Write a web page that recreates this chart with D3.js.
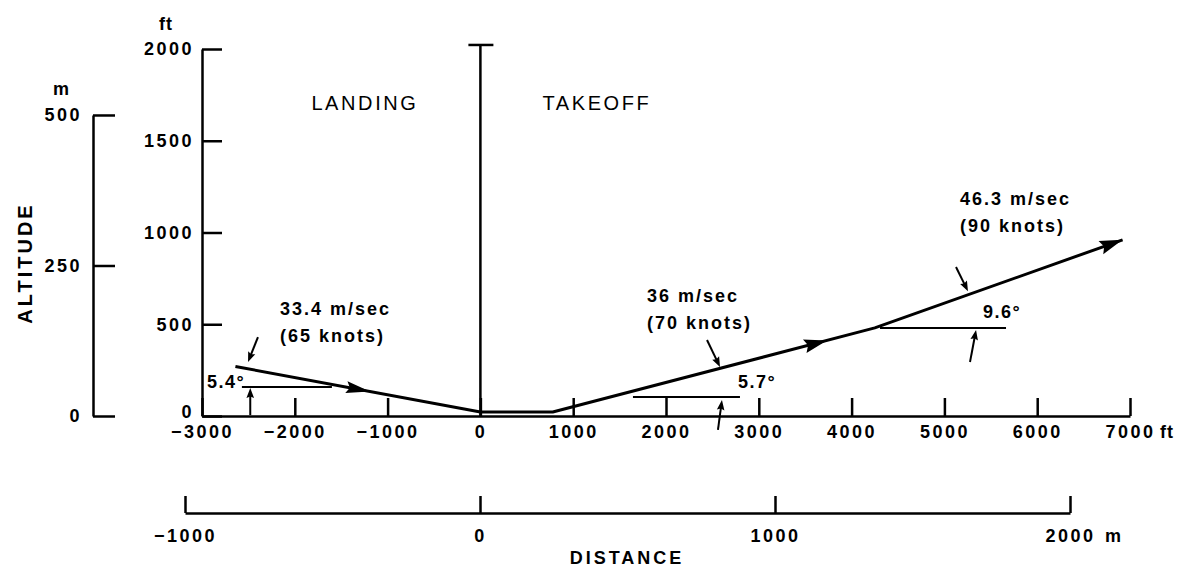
<!DOCTYPE html>
<html><head><meta charset="utf-8">
<script src="https://cdn.jsdelivr.net/npm/d3@7"></script>
<style>
html,body{margin:0;padding:0;background:#fff;}
svg{display:block;background:#fff;}
text{font-family:"Liberation Sans",Arial,Helvetica,sans-serif;fill:#000;}
</style></head><body>
<svg id="chart" width="1186" height="572"></svg>
<script>
// ---------- data ----------
const altitudeTicksFt = [0, 500, 1000, 1500, 2000];
const altitudeTicksM = [0, 250, 500];
const distanceTicksFt = [-3000, -2000, -1000, 0, 1000, 2000, 3000, 4000, 5000, 6000, 7000];
const distanceTicksM = [-1000, 0, 1000, 2000];
const phaseLabels = ["LANDING", "TAKEOFF"];
const landingX = [-2640, 0];
const landingY = [270, 22];
const takeoffX = [0, 780, 4250, 6920];
const takeoffY = [22, 22, 480, 960];
const landingArrowX = [-1190];
const takeoffArrowX = [3735, 6920];
const speedMs = ["33.4 m/sec", "36 m/sec", "46.3 m/sec"];
const speedKnots = ["(65 knots)", "(70 knots)", "(90 knots)"];
const climbAngles = ["5.4°", "5.7°", "9.6°"];
const FT_PER_M = 3.28084;

// ---------- setup ----------
const svg = d3.select("#chart");
const x = d3.scaleLinear().domain([-3000, 7000]).range([202, 1130]);
const y = d3.scaleLinear().domain([0, 2000]).range([416, 49]);
const yM = d3.scaleLinear().domain([0, 500]).range([y(0), y(500 * FT_PER_M)]);
const xM = d3.scaleLinear().domain([-1000, 2000]).range([185, 1070]);
const fmt = d3.format("d");

const LBL = {size: "18px", weight: "bold", ls: "2.5px"};
function styleAxis(g, lw) {
  g.attr("font-family", null).attr("font-size", null);
  g.select(".domain").attr("stroke", "#000").attr("stroke-width", lw);
  g.selectAll(".tick line").attr("stroke", "#000").attr("stroke-width", lw);
  g.selectAll(".tick text")
    .style("font-size", LBL.size).style("font-weight", LBL.weight)
    .style("letter-spacing", LBL.ls);
}

// altitude ft axis
svg.append("g").attr("transform", "translate(202,0)")
  .call(d3.axisLeft(y).tickValues(altitudeTicksFt).tickFormat(fmt).tickSize(-20).tickSizeOuter(0).tickPadding(8))
  .call(g => styleAxis(g, 2.5))
  .call(g => g.selectAll(".tick text").filter(d => d === 0).attr("dy", "0.1em"));
// altitude m axis
svg.append("g").attr("transform", "translate(93,0)")
  .call(d3.axisLeft(yM).tickValues(altitudeTicksM).tickFormat(fmt).tickSize(-22).tickSizeOuter(0).tickPadding(11))
  .call(g => styleAxis(g, 2.5));
// distance ft axis
svg.append("g").attr("transform", `translate(0,${y(0)})`)
  .call(d3.axisBottom(x).tickValues(distanceTicksFt).tickSize(-18).tickSizeOuter(0).tickPadding(9).tickFormat(fmt))
  .call(g => styleAxis(g, 2.5));
// distance m axis
svg.append("g").attr("transform", "translate(0,513)")
  .call(d3.axisBottom(xM).tickValues(distanceTicksM).tickSize(-17).tickSizeOuter(0).tickPadding(16).tickFormat(fmt))
  .call(g => styleAxis(g, 2.5));

function addText(t, px, py, opts = {}) {
  return svg.append("text").attr("x", px).attr("y", py).text(t)
    .attr("text-anchor", opts.anchor || "start")
    .style("font-size", opts.size || "18px")
    .style("font-weight", opts.weight || "bold")
    .style("letter-spacing", opts.ls || "2px");
}

// unit labels
addText("ft", 166, 30, {anchor: "middle", ls: "1px"});
addText("m", 61, 95, {anchor: "middle", ls: "0px"});
addText("ft", 1160, 438, {ls: "1px"});
addText("m", 1105, 542, {ls: "0px"});
// axis titles
svg.append("text").attr("transform", "translate(32,263) rotate(-90)")
  .attr("text-anchor", "middle").text("ALTITUDE")
  .style("font-size", "20px").style("font-weight", "bold").style("letter-spacing", "3px");
addText("DISTANCE", 627, 564, {anchor: "middle", ls: "3px"});

// center line with T cap
const cx = x(0);
svg.append("line").attr("x1", cx).attr("x2", cx).attr("y1", y(0)).attr("y2", y(2022))
  .attr("stroke", "#000").attr("stroke-width", 2.5);
svg.append("line").attr("x1", cx - 12).attr("x2", cx + 13).attr("y1", y(2022)).attr("y2", y(2022))
  .attr("stroke", "#000").attr("stroke-width", 2.5);

// phase labels
addText(phaseLabels[0], x(-1244), y(1668), {anchor: "middle", weight: "normal", size: "20px", ls: "2.6px"});
addText(phaseLabels[1], x(1256), y(1668), {anchor: "middle", weight: "normal", size: "20px", ls: "2.6px"});

// flight paths
const line = d3.line().x(d => x(d[0])).y(d => y(d[1]));
const landing = landingX.map((v, i) => [v, landingY[i]]);
const takeoff = takeoffX.map((v, i) => [v, takeoffY[i]]);
[landing, takeoff].forEach(p => {
  svg.append("path").attr("d", line(p)).attr("fill", "none")
    .attr("stroke", "#000").attr("stroke-width", 3).attr("stroke-linejoin", "round");
});

function arrowHead(tx, ty, ang, L, W) {
  const c = Math.cos(ang), s = Math.sin(ang);
  const bx = tx - L * c, by = ty - L * s;
  const p = [[tx, ty], [bx - W * s, by + W * c], [bx + L * 0.15 * c, by + L * 0.15 * s], [bx + W * s, by - W * c]];
  svg.append("path").attr("d", "M" + p.map(q => q.join(",")).join("L") + "Z").attr("fill", "#000");
}
function pathArrow(xs, ys, xv, L, W) {
  let i = 0;
  while (i < xs.length - 2 && xv > xs[i + 1]) i++;
  const t = (xv - xs[i]) / (xs[i + 1] - xs[i]);
  const yv = ys[i] + t * (ys[i + 1] - ys[i]);
  const ang = Math.atan2(y(ys[i + 1]) - y(ys[i]), x(xs[i + 1]) - x(xs[i]));
  arrowHead(x(xv), y(yv), ang, L, W);
}
landingArrowX.forEach(v => pathArrow(landingX, landingY, v, 24, 6));
takeoffArrowX.forEach(v => pathArrow(takeoffX, takeoffY, v, 23, 7));

// angle annotations (in ft coordinates)
const refLines = [[-2570, -1600, 158], [1644, 2797, 104], [4306, 5664, 480]];
const upArrows = [[-2480, 5, -2480, 153], [2560, -76, 2603, 87], [5276, 294, 5341, 469]];
const downArrows = [[-2397, 430, -2504, 294], [2442, 414, 2582, 267], [5125, 812, 5254, 680]];
const angleAnchors = [[-2946, 153], [2776, 153], [5416, 534]];
const speedAnchors = [[-2159, 550], [1795, 621], [5168, 1150]];

refLines.forEach(r => svg.append("line").attr("x1", x(r[0])).attr("x2", x(r[1]))
  .attr("y1", y(r[2])).attr("y2", y(r[2])).attr("stroke", "#000").attr("stroke-width", 2));
function dimArrow(a) {
  const x0 = x(a[0]), y0 = y(a[1]), x1 = x(a[2]), y1 = y(a[3]);
  const ang = Math.atan2(y1 - y0, x1 - x0);
  svg.append("line").attr("x1", x0).attr("y1", y0)
    .attr("x2", x1 - 6 * Math.cos(ang)).attr("y2", y1 - 6 * Math.sin(ang))
    .attr("stroke", "#000").attr("stroke-width", 2);
  arrowHead(x1, y1, ang, 10, 3.8);
}
upArrows.forEach(dimArrow);
downArrows.forEach(dimArrow);

climbAngles.forEach((t, i) => addText(t, x(angleAnchors[i][0]), y(angleAnchors[i][1]), {ls: "1.5px", weight: "bold", size: "18px"}));
speedMs.forEach((t, i) => {
  const px = x(speedAnchors[i][0]), py = y(speedAnchors[i][1]);
  addText(t, px, py, {ls: "2px", size: "18px"});
  addText(speedKnots[i], px, py + 27, {ls: "2px", size: "18px"});
});
</script>
</body></html>
